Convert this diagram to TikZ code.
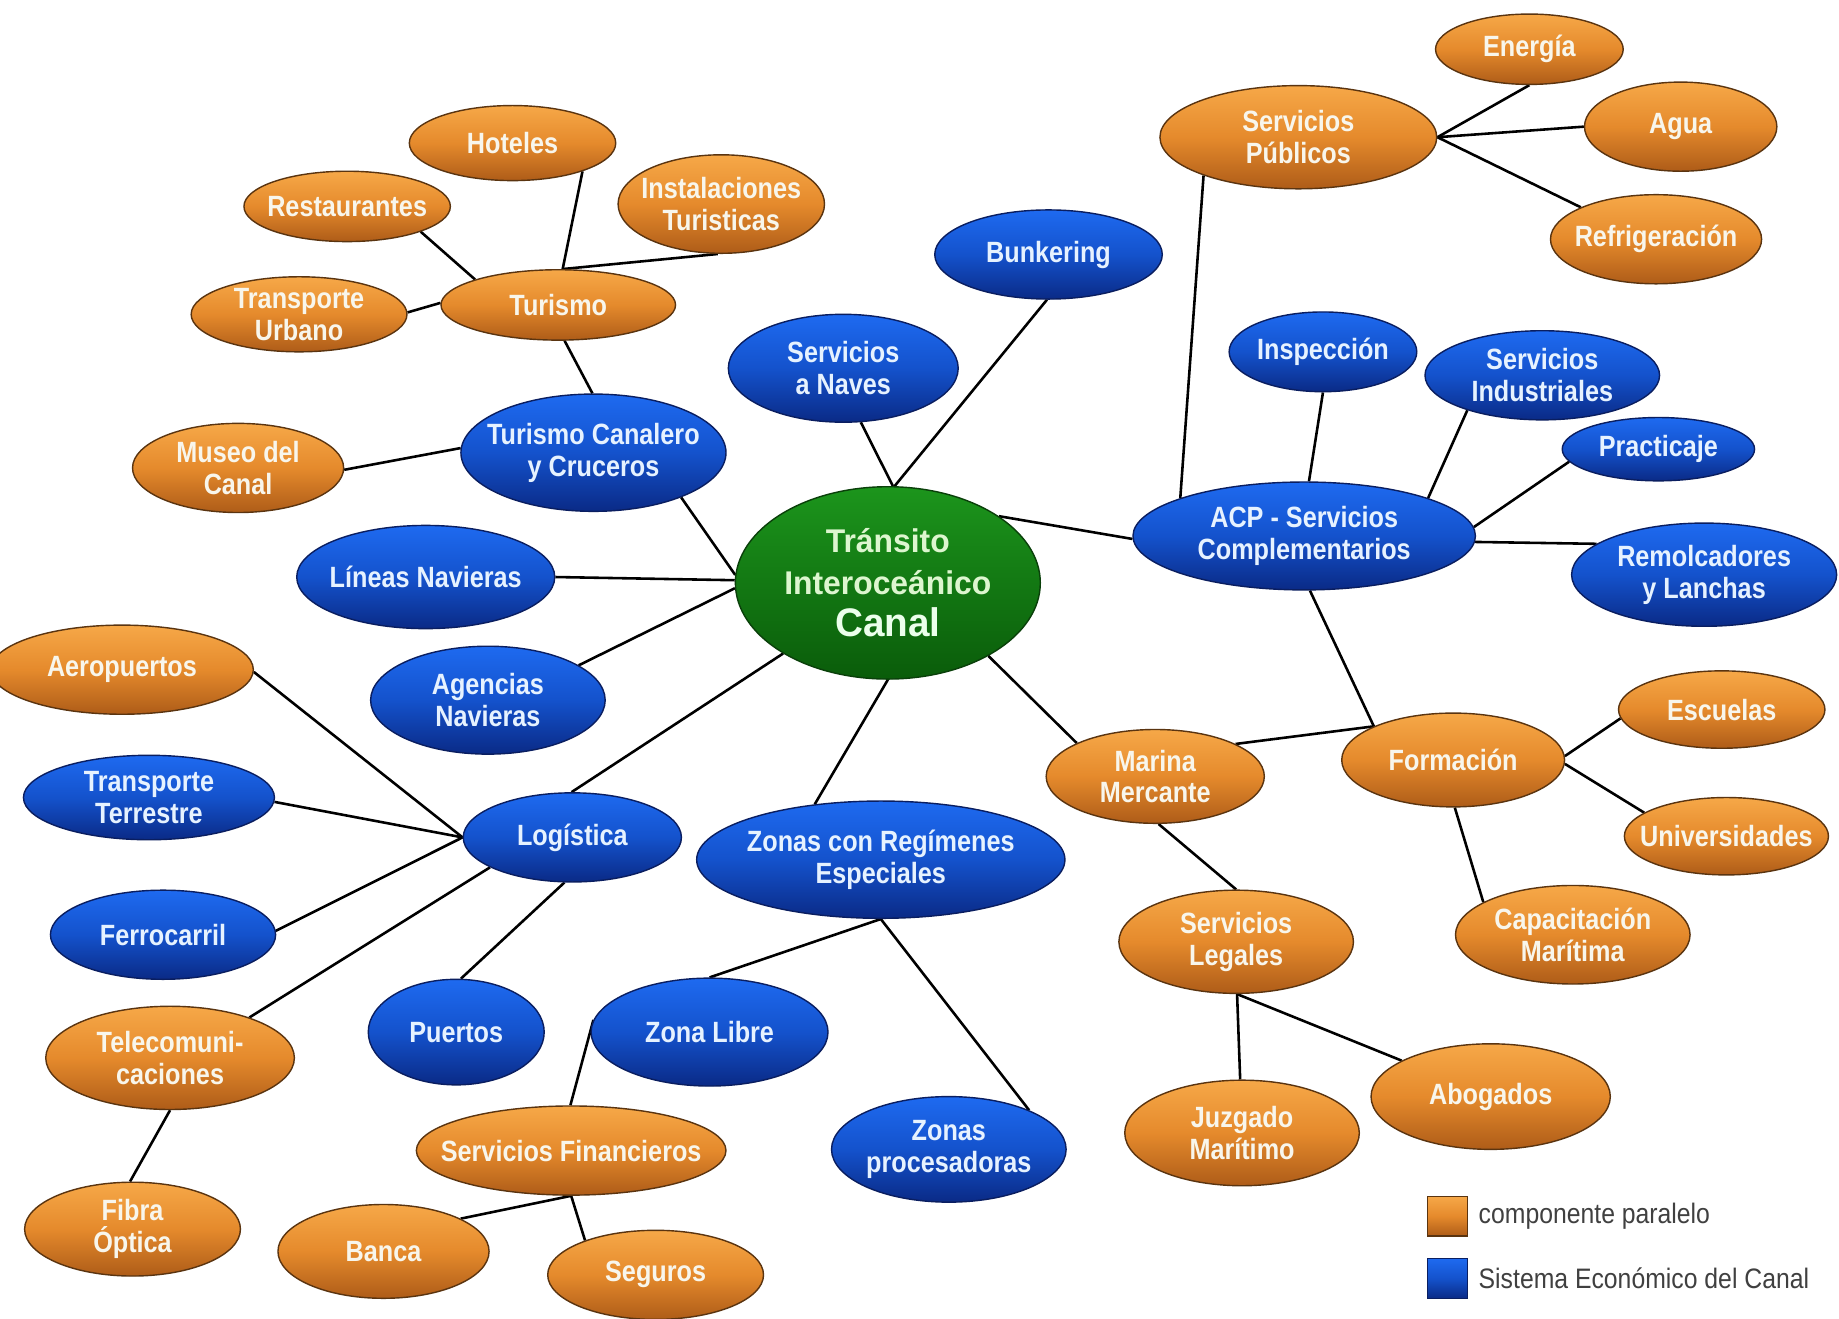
\documentclass[tikz,border=0pt]{standalone}
\usepackage{fontspec}
\setmainfont{Liberation Sans}
\newfontfamily\nodefont{Liberation Sans}[FakeStretch=0.86]
\newfontfamily\centerfont{Liberation Sans}[FakeStretch=0.97]
\newfontfamily\legfont{Liberation Sans}[FakeStretch=0.88]
\usetikzlibrary{shapes.geometric}
\pgfdeclarelayer{background}
\pgfdeclarelayer{paper}
\pgfsetlayers{paper,background,main}
\definecolor{orTop}{HTML}{F6A848}
\definecolor{orMid}{HTML}{E58A2C}
\definecolor{orBot}{HTML}{AE5C18}
\definecolor{orLine}{HTML}{5A3410}
\definecolor{orText}{HTML}{F8F6EC}
\definecolor{blTop}{HTML}{1E6AF0}
\definecolor{blMid}{HTML}{1452CC}
\definecolor{blBot}{HTML}{0A2A86}
\definecolor{blLine}{HTML}{0A1E60}
\definecolor{blText}{HTML}{E6F2FF}
\definecolor{grTop}{HTML}{1C951C}
\definecolor{grBot}{HTML}{0A5C0A}
\definecolor{grLine}{HTML}{0A400A}
\definecolor{grText}{HTML}{DDF6CF}
\definecolor{legText}{HTML}{404040}
\tikzset{
  base/.style={ellipse, inner sep=-40pt, line width=1.2pt, align=center,
    font=\nodefont\bfseries\fontsize{25}{27}\selectfont},
  orn/.style={base, draw=orLine, top color=orTop, bottom color=orBot, middle color=orMid, text=orText},
  blu/.style={base, draw=blLine, top color=blTop, bottom color=blBot, middle color=blMid, text=blText},
  sz/.style 2 args={minimum width=#1pt, minimum height=#2pt},
  edge/.style={draw=black, line width=2.2pt},
  legbox/.style={line width=1.2pt}
}
\begin{document}
\begin{tikzpicture}[x=1pt,y=1pt]
\useasboundingbox (0,0) rectangle (1568,1124);
\begin{pgfonlayer}{paper}
\fill[white] (0,0) rectangle (1568,1124);
\end{pgfonlayer}

% centre
\node[ellipse, inner sep=-40pt, sz={260}{164}, line width=1.2pt, draw=grLine,
  top color=grTop, bottom color=grBot, text=grText, align=center,
  font=\centerfont\bfseries\fontsize{28}{36}\selectfont] (C) at (757,627)
  {Tránsito\\Interoceánico\\{\fontsize{34}{36}\selectfont\color{white!92!green}Canal}};

% top right
\node[orn, sz={160}{60}] (En) at (1304,1082) {Energía};
\node[orn, sz={236}{88}] (SP) at (1107,1007) {Servicios\\Públicos};
\node[orn, sz={164}{76}] (Ag) at (1433,1016) {Agua};
\node[orn, sz={180}{76}] (Re) at (1412,920) {Refrigeración};

% top left
\node[orn, sz={176}{64}] (Ho) at (437,1002) {Hoteles};
\node[orn, sz={176}{60}] (Rs) at (296,948) {Restaurantes};
\node[orn, sz={176}{84}] (In) at (615,950) {Instalaciones\\Turisticas};
\node[orn, sz={200}{60}] (Tu) at (476,864) {Turismo};
\node[orn, sz={184}{64}] (TU) at (255,856) {Transporte\\Urbano};

\node[blu, sz={194}{76}] (Bu) at (894,907) {Bunkering};
\node[blu, sz={196}{92}] (SN) at (719,810) {Servicios\\a Naves};
\node[blu, sz={226}{100}] (TC) at (506,738) {Turismo Canalero\\y Cruceros};
\node[orn, sz={180}{76}] (Mu) at (203,725) {Museo del\\Canal};
\node[blu, sz={220}{88}] (LN) at (363,632) {Líneas Navieras};
\node[blu, sz={200}{92}] (AN) at (416,527) {Agencias\\Navieras};

% left / bottom
\node[orn, sz={224}{76}] (Ae) at (104,553) {Aeropuertos};
\node[blu, sz={214}{72}] (TT) at (127,444) {Transporte\\Terrestre};
\node[blu, sz={186}{76}] (Lo) at (488,410) {Logística};
\node[blu, sz={192}{76}] (Fe) at (139,327) {Ferrocarril};
\node[orn, sz={212}{88}] (Te) at (145,222) {Telecomuni-\\caciones};
\node[blu, sz={150}{90}] (Pu) at (389,244) {Puertos};
\node[blu, sz={202}{92}] (ZL) at (605,244) {Zona Libre};
\node[blu, sz={314}{100}] (ZR) at (751,391) {Zonas con Regímenes\\Especiales};
\node[orn, sz={264}{76}] (SF) at (487,143) {Servicios Financieros};
\node[orn, sz={184}{80}] (Fi) at (113,76) {Fibra\\Óptica};
\node[orn, sz={180}{80}] (Ba) at (327,57) {Banca};
\node[orn, sz={184}{76}] (Se) at (559,37) {Seguros};
\node[blu, sz={200}{90}] (ZP) at (809,144) {Zonas\\procesadoras};

% right
\node[blu, sz={292}{92}] (ACP) at (1112,667) {ACP - Servicios\\Complementarios};
\node[blu, sz={160}{68}] (Is) at (1128,824) {Inspección};
\node[blu, sz={200}{76}] (SI) at (1315,804) {Servicios\\Industriales};
\node[blu, sz={164}{54}] (Pr) at (1414,741) {Practicaje};
\node[blu, sz={226}{88}] (Rm) at (1453,634) {Remolcadores\\y Lanchas};
\node[orn, sz={186}{80}] (MM) at (985,462) {Marina\\Mercante};
\node[orn, sz={190}{80}] (Fo) at (1239,476) {Formación};
\node[orn, sz={176}{66}] (Es) at (1468,519) {Escuelas};
\node[orn, sz={174}{66}] (Un) at (1472,411) {Universidades};
\node[orn, sz={200}{84}] (Ca) at (1341,327) {Capacitación\\Marítima};
\node[orn, sz={200}{88}] (SL) at (1054,321) {Servicios\\Legales};
\node[orn, sz={204}{90}] (Ab) at (1271,189) {Abogados};
\node[orn, sz={200}{90}] (Ju) at (1059,158) {Juzgado\\Marítimo};

% legend
\node[draw=orLine, legbox, top color=orTop, bottom color=orBot, middle color=orMid,
  minimum size=34pt, inner sep=0pt] (LgO) at (1234,87) {};
\node[draw=blLine, legbox, top color=blTop, bottom color=blBot, middle color=blMid,
  minimum size=34pt, inner sep=0pt] (LgB) at (1234,34) {};
\node[anchor=west, inner sep=0pt, text=legText, font=\legfont\fontsize{24}{26}\selectfont]
  (LtO) at ([xshift=9pt]LgO.east) {componente paralelo};
\node[anchor=west, inner sep=0pt, text=legText, font=\legfont\fontsize{24}{26}\selectfont]
  (LtB) at ([xshift=9pt]LgB.east) {Sistema Económico del Canal};

\begin{pgfonlayer}{background}
% turismo cluster
\draw[edge] (Ho.-22) -- (Tu.83);
\draw[edge] (In.-94) -- (Tu.83);
\draw[edge] (Rs.-19) -- (Tu.163);
\draw[edge] (TU.1) -- (Tu.179);
\draw[edge] (Tu.-80) -- (TC.91);
\draw[edge] (Mu.-1) -- (TC.178);
% centre links
\draw[edge] (TC.-27) -- (C.177);
\draw[edge] (LN.0) -- (C.179);
\draw[edge] (AN.21) -- (C.-178);
\draw[edge] (SN.-72) -- (C.87);
\draw[edge] (Bu.-92) -- (C.86);
\draw[edge] (C.-146) -- (Lo.91);
\draw[edge] (C.-90) -- (ZR.140);
\draw[edge] (C.31) -- (ACP.181);
\draw[edge] (C.-36) -- (MM.157);
% servicios publicos
\draw[edge] (SP.-158) -- (ACP.163);
\draw[edge] (SP.east) -- (En.-90);
\draw[edge] (SP.east) -- (Ag.180);
\draw[edge] (SP.east) -- (Re.157);
% ACP
\draw[edge] (Is.-90) -- (ACP.85);
\draw[edge] (SI.-155) -- (ACP.17);
\draw[edge] (Pr.-172) -- (ACP.3);
\draw[edge] (Rm.164) -- (ACP.-2);
\draw[edge] (ACP.-84) -- (Fo.157);
% formacion / marina
\draw[edge] (MM.22) -- (Fo.157);
\draw[edge] (Fo.2) -- (Es.-175);
\draw[edge] (Fo.-2) -- (Un.164);
\draw[edge] (Fo.-88) -- (Ca.160);
\draw[edge] (MM.-86) -- (SL.90);
\draw[edge] (SL.-89) -- (Ju.92);
\draw[edge] (SL.-89) -- (Ab.158);
% logistica
\draw[edge] (Ae.-1) -- (Lo.180);
\draw[edge] (TT.-2) -- (Lo.180);
\draw[edge] (Fe.2) -- (Lo.180);
\draw[edge] (Te.27) -- (Lo.-160);
\draw[edge] (Lo.-100) -- (Pu.85);
% zonas
\draw[edge] (ZR.-90) -- (ZL.90);
\draw[edge] (ZR.-90) -- (ZP.26);
\draw[edge] (ZL.174) -- (SF.91);
\draw[edge] (Te.-90) -- (Fi.93);
\draw[edge] (SF.-90) -- (Ba.23);
\draw[edge] (SF.-90) -- (Se.154);
\end{pgfonlayer}
\end{tikzpicture}
\end{document}
